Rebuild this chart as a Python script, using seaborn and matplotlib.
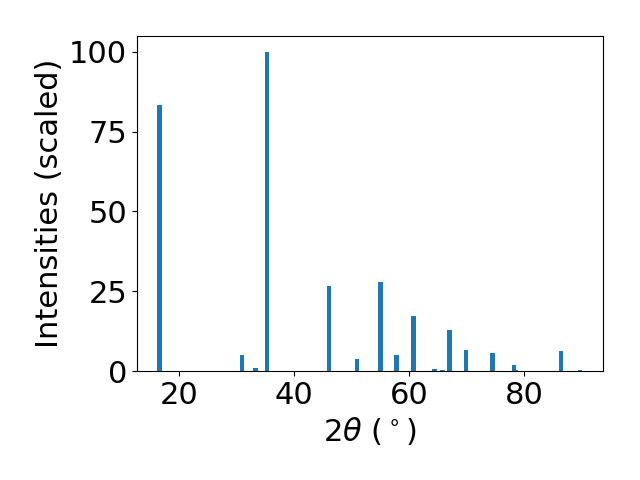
import matplotlib
matplotlib.use("Agg")
import matplotlib.pyplot as plt
import seaborn as sns
import pandas as pd

two_theta = [16.5, 30.9, 33.2, 35.25, 46.0, 50.9, 55.0, 57.8, 60.7, 64.4,
             65.8, 67.0, 69.9, 74.5, 78.2, 78.6, 86.4, 89.7]
intensity = [83.4, 5.0, 1.0, 100.0, 26.6, 3.7, 27.9, 5.0, 17.2, 0.6,
             0.3, 12.8, 6.6, 5.6, 1.9, 0.3, 6.3, 0.4]

sns.set_style("ticks", {"axes.spines.top": True, "axes.spines.right": True})
plt.rcParams.update({"font.size": 22, "font.family": ["DejaVu Sans"],
                     "axes.edgecolor": "black", "xtick.color": "black",
                     "ytick.color": "black", "axes.labelcolor": "black",
                     "axes.linewidth": 0.8, "xtick.major.width": 0.8,
                     "ytick.major.width": 0.8, "xtick.major.size": 3.5,
                     "ytick.major.size": 3.5, "xtick.labelsize": 22,
                     "ytick.labelsize": 22, "axes.labelsize": 22})

df = pd.DataFrame({"two_theta": two_theta, "intensity": intensity})
fig, ax = plt.subplots(figsize=(6.4, 4.8), dpi=100)
ax.bar(df["two_theta"], df["intensity"], width=0.8, color="#1f77b4",
       linewidth=0)
ax.set_xlabel(r"$2\theta$ ($^\circ$)")
ax.set_ylabel("Intensities (scaled)")
ax.set_xticks([20, 40, 60, 80])
ax.set_yticks([0, 25, 50, 75, 100])
ax.set_ylim(0, 105)
ax.set_xlim(12.6, 93.7)
fig.subplots_adjust(left=0.214, right=0.942, top=0.925, bottom=0.227)
fig.savefig("out.png", dpi=100)
